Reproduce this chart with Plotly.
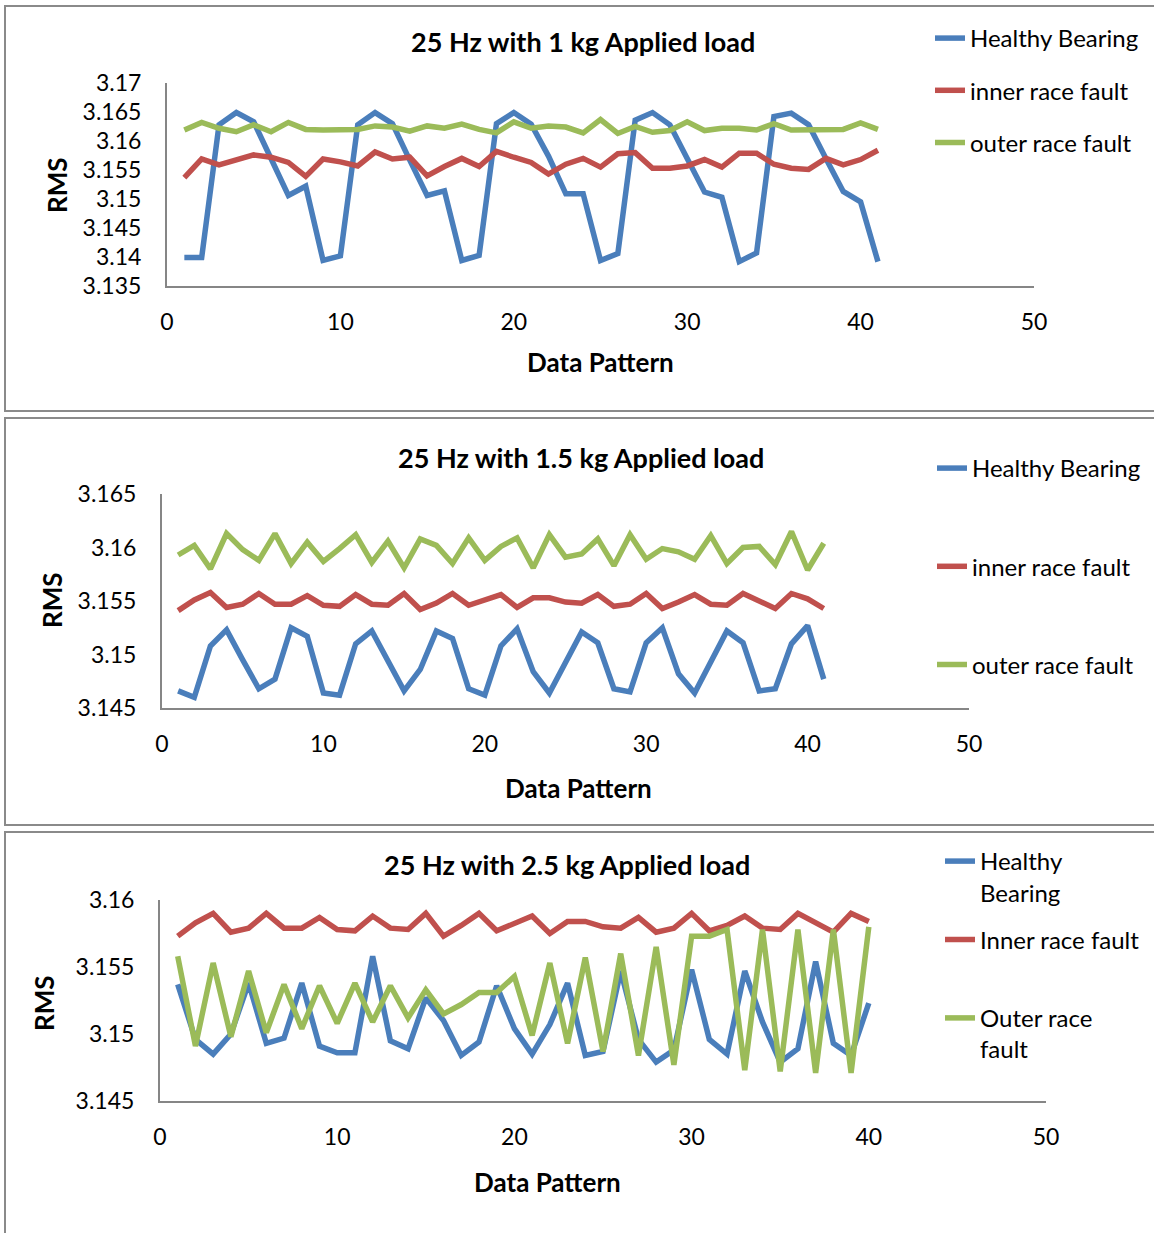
import plotly.graph_objects as go

# ---------------- data ----------------
pattern_41 = list(range(1, 42))
pattern_40 = list(range(1, 41))

series_names_12 = ["Healthy Bearing", "inner race fault", "outer race fault"]
series_names_3 = ["Healthy<br>Bearing", "Inner race fault<br> ", "Outer race<br>fault"]

titles = ["25 Hz with 1 kg Applied load",
          "25 Hz with 1.5 kg Applied load",
          "25 Hz with 2.5 kg Applied load"]

p1_healthy = [3.1399, 3.1399, 3.1628, 3.1649, 3.1633, 3.1570, 3.1506, 3.1522, 3.1394, 3.1402,
              3.1628, 3.1649, 3.1630, 3.1567, 3.1506, 3.1514, 3.1394, 3.1403, 3.1630, 3.1649,
              3.1629, 3.1574, 3.1509, 3.1509, 3.1394, 3.1406, 3.1636, 3.1649, 3.1628, 3.1570,
              3.1512, 3.1503, 3.1392, 3.1407, 3.1642, 3.1648, 3.1628, 3.1570, 3.1513, 3.1495, 3.1392]
p1_inner = [3.1537, 3.1569, 3.1559, 3.1568, 3.1576, 3.1572, 3.1563, 3.1539, 3.1569, 3.1564,
            3.1557, 3.1581, 3.1569, 3.1572, 3.1540, 3.1556, 3.1570, 3.1556, 3.1582, 3.1572,
            3.1563, 3.1543, 3.1560, 3.1570, 3.1555, 3.1578, 3.1580, 3.1553, 3.1553, 3.1557,
            3.1568, 3.1555, 3.1579, 3.1579, 3.1560, 3.1553, 3.1551, 3.1570, 3.1559, 3.1568, 3.1584]
p1_outer = [3.1619, 3.1632, 3.1622, 3.1616, 3.1628, 3.1616, 3.1632, 3.1620, 3.1619, 3.1620,
            3.1620, 3.1626, 3.1624, 3.1617, 3.1626, 3.1622, 3.1629, 3.1620, 3.1614, 3.1633,
            3.1622, 3.1626, 3.1624, 3.1614, 3.1637, 3.1613, 3.1625, 3.1615, 3.1618, 3.1633,
            3.1618, 3.1622, 3.1622, 3.1619, 3.1630, 3.1619, 3.1620, 3.1619, 3.1620, 3.1631, 3.1620]

p2_healthy = [3.1466, 3.1460, 3.1508, 3.1523, 3.1495, 3.1468, 3.1477, 3.1525, 3.1517, 3.1464,
              3.1462, 3.1510, 3.1522, 3.1493, 3.1466, 3.1486, 3.1522, 3.1515, 3.1468, 3.1462,
              3.1508, 3.1524, 3.1484, 3.1464, 3.1493, 3.1521, 3.1511, 3.1468, 3.1465, 3.1511,
              3.1525, 3.1482, 3.1464, 3.1493, 3.1522, 3.1511, 3.1466, 3.1468, 3.1510, 3.1527, 3.1477]
p2_inner = [3.1541, 3.1551, 3.1558, 3.1544, 3.1547, 3.1557, 3.1547, 3.1547, 3.1555, 3.1546,
            3.1545, 3.1556, 3.1547, 3.1546, 3.1557, 3.1542, 3.1548, 3.1557, 3.1546, 3.1551,
            3.1556, 3.1544, 3.1553, 3.1553, 3.1549, 3.1548, 3.1556, 3.1545, 3.1547, 3.1557,
            3.1543, 3.1549, 3.1556, 3.1547, 3.1546, 3.1557, 3.1550, 3.1543, 3.1557, 3.1552, 3.1543]
p2_outer = [3.1593, 3.1602, 3.1580, 3.1613, 3.1598, 3.1588, 3.1613, 3.1585, 3.1605, 3.1587,
            3.1599, 3.1612, 3.1586, 3.1606, 3.1581, 3.1608, 3.1602, 3.1585, 3.1609, 3.1588,
            3.1601, 3.1609, 3.1581, 3.1612, 3.1591, 3.1594, 3.1608, 3.1583, 3.1612, 3.1589,
            3.1599, 3.1596, 3.1589, 3.1611, 3.1585, 3.1600, 3.1601, 3.1584, 3.1615, 3.1579, 3.1604]

p3_healthy = [3.1537, 3.1496, 3.1485, 3.1500, 3.1538, 3.1493, 3.1497, 3.1538, 3.1491, 3.1486,
              3.1486, 3.1558, 3.1495, 3.1489, 3.1527, 3.1510, 3.1484, 3.1494, 3.1536, 3.1504,
              3.1485, 3.1507, 3.1538, 3.1484, 3.1487, 3.1547, 3.1496, 3.1479, 3.1488, 3.1548,
              3.1496, 3.1485, 3.1547, 3.1509, 3.1479, 3.1489, 3.1554, 3.1493, 3.1484, 3.1523]
p3_inner = [3.1573, 3.1583, 3.1590, 3.1576, 3.1579, 3.1590, 3.1579, 3.1579, 3.1587, 3.1578,
            3.1577, 3.1588, 3.1579, 3.1578, 3.1590, 3.1573, 3.1581, 3.1590, 3.1577, 3.1583,
            3.1588, 3.1575, 3.1584, 3.1584, 3.1580, 3.1579, 3.1587, 3.1576, 3.1579, 3.1590,
            3.1577, 3.1581, 3.1588, 3.1579, 3.1578, 3.1590, 3.1583, 3.1576, 3.1590, 3.1584]
p3_outer = [3.1558, 3.1491, 3.1553, 3.1498, 3.1547, 3.1501, 3.1537, 3.1504, 3.1536, 3.1508,
            3.1538, 3.1509, 3.1536, 3.1512, 3.1533, 3.1515, 3.1522, 3.1531, 3.1531, 3.1543,
            3.1499, 3.1553, 3.1493, 3.1557, 3.1487, 3.1560, 3.1484, 3.1565, 3.1477, 3.1573,
            3.1573, 3.1578, 3.1473, 3.1578, 3.1472, 3.1578, 3.1471, 3.1578, 3.1471, 3.1580]

y_ranges = [[3.135, 3.17], [3.145, 3.165], [3.145, 3.16]]
x_range = [0, 50]

# ---------------- styling / layout ----------------
W, H = 1154, 1233
COLORS = ["#4A7EBB", "#C0504D", "#9BBB59"]
FONT = "Lato, Calibri, Carlito, sans-serif"
AXIS_GRAY = "#868686"


def px(x):
    return x / W


def py(y):
    return 1 - y / H


# plot-area pixel boxes (left, right, top, bottom)
boxes = [(167, 1034, 83, 286), (162, 969, 494, 708), (160, 1046, 900, 1101)]
frames = [(5, 6, 1170, 411), (5, 418, 1170, 825), (5, 832, 1170, 1245)]
title_pos = [(583, 41), (581, 457), (567, 864)]
ytitle_pos = [(57, 185), (52, 600), (44, 1003)]
xtitle_pos = [(600, 362), (578, 788), (547, 1182)]
legend_pos = [(930, 16, 18), (932, 446, 64), (940, 839, 13)]

panels = [
    (pattern_41, [p1_healthy, p1_inner, p1_outer], series_names_12),
    (pattern_41, [p2_healthy, p2_inner, p2_outer], series_names_12),
    (pattern_40, [p3_healthy, p3_inner, p3_outer], series_names_3),
]

fig = go.Figure()
layout = dict(
    width=W, height=H,
    margin=dict(l=0, r=0, t=0, b=0),
    paper_bgcolor="white", plot_bgcolor="white",
    font=dict(family=FONT, size=22, color="black"),
    showlegend=True,
)

annotations = []
shapes = []

for i, (xs, ys_list, names) in enumerate(panels):
    n = i + 1
    xa = "x" if n == 1 else f"x{n}"
    ya = "y" if n == 1 else f"y{n}"
    leg = "legend" if n == 1 else f"legend{n}"
    for j, (ys, name) in enumerate(zip(ys_list, names)):
        fig.add_trace(go.Scatter(
            x=xs, y=ys, mode="lines", name=name,
            line=dict(color=COLORS[j], width=5.5),
            xaxis=xa, yaxis=ya, legend=leg, legendgroup=f"g{n}_{j}",
        ))
    l, r, t, b = boxes[i]
    axkey_x = "xaxis" if n == 1 else f"xaxis{n}"
    axkey_y = "yaxis" if n == 1 else f"yaxis{n}"
    layout[axkey_x] = dict(
        domain=[px(l), px(r)], range=x_range, dtick=10, tick0=0,
        anchor=ya, showgrid=False, zeroline=False, showline=True,
        linecolor=AXIS_GRAY, linewidth=2, ticks="", ticklabelstandoff=14,
        tickfont=dict(size=23, family=FONT), automargin=False,
    )
    layout[axkey_y] = dict(
        domain=[py(b), py(t)], range=y_ranges[i], dtick=0.005,
        anchor=xa, showgrid=False, zeroline=False, showline=True,
        linecolor=AXIS_GRAY, linewidth=2, ticks="", ticklabelstandoff=19,
        tickfont=dict(size=23, family=FONT), automargin=False,
    )
    lx, ly, gap = legend_pos[i]
    layout[leg] = dict(
        x=px(lx), y=py(ly), xanchor="left", yanchor="top",
        bgcolor="rgba(0,0,0,0)", font=dict(size=24, family=FONT, color="black"),
        tracegroupgap=gap, valign="top", traceorder="grouped",
    )
    tx, ty = title_pos[i]
    annotations.append(dict(
        text=f"<b>{titles[i]}</b>", x=px(tx), y=py(ty), xref="paper", yref="paper",
        showarrow=False, font=dict(size=27, family=FONT, color="black"),
        xanchor="center", yanchor="middle",
    ))
    yx, yy = ytitle_pos[i]
    annotations.append(dict(
        text="<b>RMS</b>", x=px(yx), y=py(yy), xref="paper", yref="paper",
        showarrow=False, textangle=-90, font=dict(size=26, family=FONT, color="black"),
        xanchor="center", yanchor="middle",
    ))
    xx, xy = xtitle_pos[i]
    annotations.append(dict(
        text="<b>Data Pattern</b>", x=px(xx), y=py(xy), xref="paper", yref="paper",
        showarrow=False, font=dict(size=26, family=FONT, color="black"),
        xanchor="center", yanchor="middle",
    ))
    fx0, fy0, fx1, fy1 = frames[i]
    shapes.append(dict(
        type="rect", xref="paper", yref="paper",
        x0=px(fx0), x1=px(fx1), y0=py(fy1), y1=py(fy0),
        line=dict(color="#8A8A8A", width=2), fillcolor="rgba(0,0,0,0)", layer="below",
    ))

layout["annotations"] = annotations
layout["shapes"] = shapes
fig.update_layout(**layout)
fig.write_html(
    "out.html",
    config={"displayModeBar": False},
    post_script="document.body.style.margin='0';document.body.style.overflow='hidden';",
)
